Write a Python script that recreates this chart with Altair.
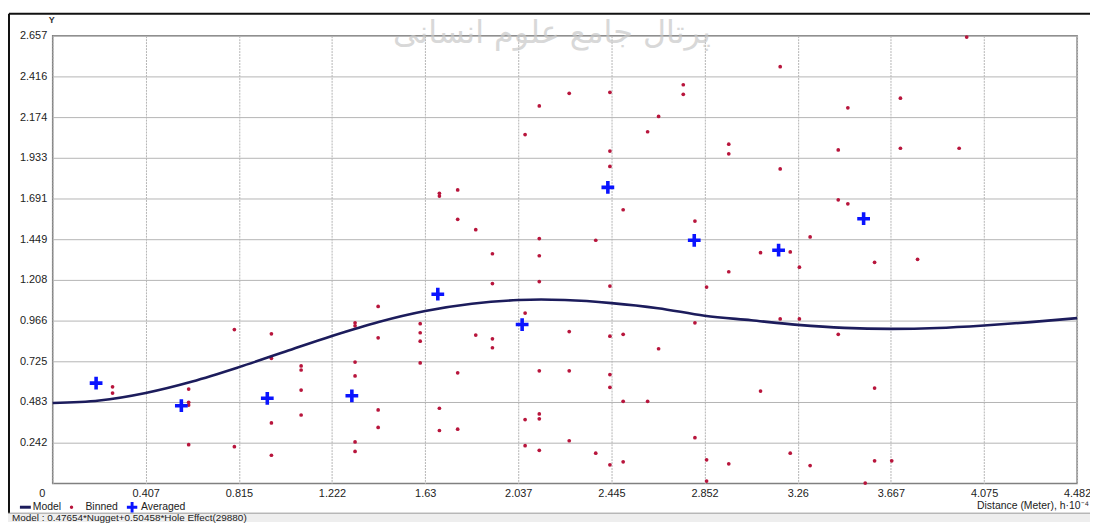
import altair as alt
import pandas as pd

# ---------------- data ----------------
x_ticks = [0, 0.407, 0.815, 1.222, 1.63, 2.037, 2.445, 2.852, 3.26, 3.667, 4.075, 4.482]
y_ticks = [0.242, 0.483, 0.725, 0.966, 1.208, 1.449, 1.691, 1.933, 2.174, 2.416, 2.657]

model_x = [0, 0.204, 0.407, 0.611, 0.815, 1.019, 1.222, 1.426, 1.63, 1.834, 2.037, 2.137,
           2.241, 2.445, 2.648, 2.852, 3.056, 3.26, 3.463, 3.667, 3.871, 4.075, 4.278, 4.482]
model_y = [0.477, 0.492, 0.537, 0.605, 0.690, 0.783, 0.875, 0.958, 1.023, 1.066, 1.088, 1.091,
           1.088, 1.070, 1.040, 0.995, 0.968, 0.941, 0.923, 0.917, 0.922, 0.937, 0.957, 0.981]

avg_x = [0.190, 0.563, 0.939, 1.309, 1.685, 2.054, 2.429, 2.807, 3.176, 3.548]
avg_y = [0.595, 0.461, 0.505, 0.520, 1.123, 0.943, 1.757, 1.443, 1.384, 1.571]

bin_x = [0.262, 0.262, 0.595, 0.595, 0.595, 0.595, 0.795, 0.795, 0.957, 0.957,
         0.957, 0.957, 1.087, 1.087, 1.087, 1.087, 1.323, 1.323, 1.323, 1.323,
         1.323, 1.323, 1.424, 1.424, 1.424, 1.424, 1.608, 1.608, 1.608, 1.608,
         1.692, 1.692, 1.692, 1.692, 1.772, 1.772, 1.772, 1.772, 1.851, 1.851,
         1.924, 1.924, 1.924, 1.924, 2.067, 2.067, 2.067, 2.067, 2.129, 2.129,
         2.129, 2.129, 2.129, 2.129, 2.129, 2.129, 2.260, 2.260, 2.260, 2.260,
         2.376, 2.376, 2.438, 2.438, 2.438, 2.438, 2.438, 2.438, 2.438, 2.438,
         2.496, 2.496, 2.496, 2.496, 2.603, 2.603, 2.651, 2.651, 2.759, 2.759,
         2.810, 2.810, 2.810, 2.861, 2.861, 2.861, 2.958, 2.958, 2.958, 2.958,
         3.097, 3.097, 3.183, 3.183, 3.183, 3.227, 3.227, 3.267, 3.267, 3.314,
         3.314, 3.437, 3.437, 3.437, 3.479, 3.479, 3.555, 3.596, 3.596, 3.596,
         3.671, 3.709, 3.709, 3.784, 3.966, 3.999]
bin_y = [0.573, 0.536, 0.560, 0.481, 0.465, 0.230, 0.913, 0.218, 0.888, 0.742,
         0.359, 0.167, 0.697, 0.673, 0.554, 0.406, 0.953, 0.935, 0.720, 0.638,
         0.246, 0.190, 1.050, 0.864, 0.436, 0.332, 0.948, 0.894, 0.844, 0.715,
         1.722, 1.705, 0.446, 0.314, 1.742, 1.567, 0.656, 0.322, 1.506, 0.880,
         1.363, 1.186, 0.858, 0.805, 2.070, 1.011, 0.379, 0.224, 2.240, 1.453,
         1.351, 1.198, 0.668, 0.412, 0.383, 0.196, 2.315, 0.901, 0.668, 0.253,
         1.443, 0.179, 2.321, 1.972, 1.881, 1.171, 0.874, 0.646, 0.570, 0.110,
         1.624, 0.885, 0.487, 0.128, 2.087, 0.487, 2.178, 0.799, 2.366, 2.309,
         1.557, 0.953, 0.271, 1.165, 0.140, 0.014, 2.013, 1.956, 1.256, 0.116,
         1.369, 0.548, 2.473, 1.866, 0.976, 1.374, 0.179, 1.283, 0.976, 1.463,
         0.106, 1.979, 1.683, 0.885, 2.229, 1.659, 0.002, 1.312, 0.566, 0.134,
         0.134, 2.286, 1.989, 1.330, 1.989, 2.649]

legend_labels = ["Model", "Binned", "Averaged"]
x_title = "Distance (Meter), h·10⁻⁴"
y_title = "Y"
status_text = "Model : 0.47654*Nugget+0.50458*Hole Effect(29880)"
watermark = "پرتال جامع علوم انسانی"

# ---------------- styling ----------------
FONT = "Liberation Sans"
NAVY = "#1c1c5c"
RED = "#b8153c"
BLUE = "#0a14ff"
CROSS = "M-1,-0.28L-0.28,-0.28L-0.28,-1L0.28,-1L0.28,-0.28L1,-0.28L1,0.28L0.28,0.28L0.28,1L-0.28,1L-0.28,0.28L-1,0.28Z"
W, H = 1032, 451

model_df = pd.DataFrame({"x": model_x, "y": model_y})
avg_df = pd.DataFrame({"x": avg_x, "y": avg_y})
bin_df = pd.DataFrame({"x": bin_x, "y": bin_y})

xs = alt.Scale(domain=[0, 4.482], nice=False, zero=False)
ys = alt.Scale(domain=[0, 2.657], nice=False, zero=False)

xaxis = alt.Axis(values=x_ticks, format=".4~g", title=None, grid=True, gridColor="#b4b4b4",
                 gridDash=[2, 1], gridWidth=1, ticks=False, domain=False, labelFont=FONT,
                 labelFontSize=11, labelColor="#222222", labelPadding=4, labelFlush=False,
                 labelOverlap=False,
                 labelOffset={"condition": {"test": "datum.value == 0", "value": -11}, "value": 0})
yaxis = alt.Axis(values=y_ticks, format=".4~g", title=None, grid=True, gridColor="#b4b4b4",
                 gridWidth=1, ticks=False, domain=False, labelFont=FONT, labelFontSize=11,
                 labelColor="#222222", labelPadding=6, labelOverlap=False)

bins = alt.Chart(bin_df).mark_point(filled=True, shape="circle", size=14, color=RED, opacity=1).encode(
    x=alt.X("x:Q", scale=xs, axis=xaxis),
    y=alt.Y("y:Q", scale=ys, axis=yaxis),
)
model = alt.Chart(model_df).mark_line(color=NAVY, strokeWidth=2.6, interpolate="monotone").encode(
    x=alt.X("x:Q", scale=xs), y=alt.Y("y:Q", scale=ys)
)
avg = alt.Chart(avg_df).mark_point(filled=True, shape=CROSS, size=165, color=BLUE, opacity=1).encode(
    x=alt.X("x:Q", scale=xs), y=alt.Y("y:Q", scale=ys)
)

# frame (page coords minus plot origin at 53,34)
frame_top = alt.Chart().mark_rule(color="#111111", strokeWidth=2).encode(
    x=alt.value(-44), x2=alt.value(1045), y=alt.value(-22))
frame_left = alt.Chart().mark_rule(color="#111111", strokeWidth=2).encode(
    x=alt.value(-44), y=alt.value(-22), y2=alt.value(481))
status_bg = alt.Chart().mark_rect(color="#eeeeee").encode(
    x=alt.value(-53), x2=alt.value(1045), y=alt.value(481), y2=alt.value(490))
status_line = alt.Chart().mark_rule(color="#999999", strokeWidth=1).encode(
    x=alt.value(-53), x2=alt.value(1045), y=alt.value(481))
status = alt.Chart().mark_text(text=status_text, font=FONT, fontSize=10, align="left",
                               baseline="middle", color="#222222").encode(
    x=alt.value(-41), y=alt.value(485.5))

y_lab = alt.Chart().mark_text(text=y_title, font=FONT, fontSize=9, fontWeight="bold",
                              align="center", baseline="middle", color="#333333").encode(
    x=alt.value(-1), y=alt.value(-16))
x_lab = alt.Chart().mark_text(text=x_title, font=FONT, fontSize=10.5, align="right",
                              baseline="middle", color="#222222").encode(
    x=alt.value(1044), y=alt.value(474))

leg_line = alt.Chart().mark_rule(color=NAVY, strokeWidth=3).encode(
    x=alt.value(-33), x2=alt.value(-22), y=alt.value(475))
leg_t1 = alt.Chart().mark_text(text=legend_labels[0], font=FONT, fontSize=10.5, align="left",
                               baseline="middle", color="#222222").encode(
    x=alt.value(-20), y=alt.value(475))
leg_dot = alt.Chart().mark_point(filled=True, shape="circle", size=12, color=RED, opacity=1).encode(
    x=alt.value(19), y=alt.value(475))
leg_t2 = alt.Chart().mark_text(text=legend_labels[1], font=FONT, fontSize=10.5, align="left",
                               baseline="middle", color="#222222").encode(
    x=alt.value(33), y=alt.value(475))
leg_cross = alt.Chart().mark_point(filled=True, shape=CROSS, size=110, color=BLUE, opacity=1).encode(
    x=alt.value(80), y=alt.value(475))
leg_t3 = alt.Chart().mark_text(text=legend_labels[2], font=FONT, fontSize=10.5, align="left",
                               baseline="middle", color="#222222").encode(
    x=alt.value(89), y=alt.value(475))

wm = alt.Chart().mark_text(text=watermark, font="DejaVu Sans", fontSize=32, align="center",
                           baseline="middle", color="#c8c8c8", opacity=0.7).encode(
    x=alt.value(503), y=alt.value(-3))

chart = alt.layer(
    bins, model, avg, frame_top, frame_left, status_bg, status_line, status,
    y_lab, x_lab, leg_line, leg_t1, leg_dot, leg_t2, leg_cross, leg_t3, wm
).properties(
    width=W, height=H,
    padding={"left": 45, "top": 26, "right": 13, "bottom": 39},
    autosize=alt.AutoSizeParams(type="none"),
    background="white",
).configure_view(stroke="#808080", strokeWidth=1.5)

chart.save("out.html", embed_options={"renderer": "svg", "actions": False})
